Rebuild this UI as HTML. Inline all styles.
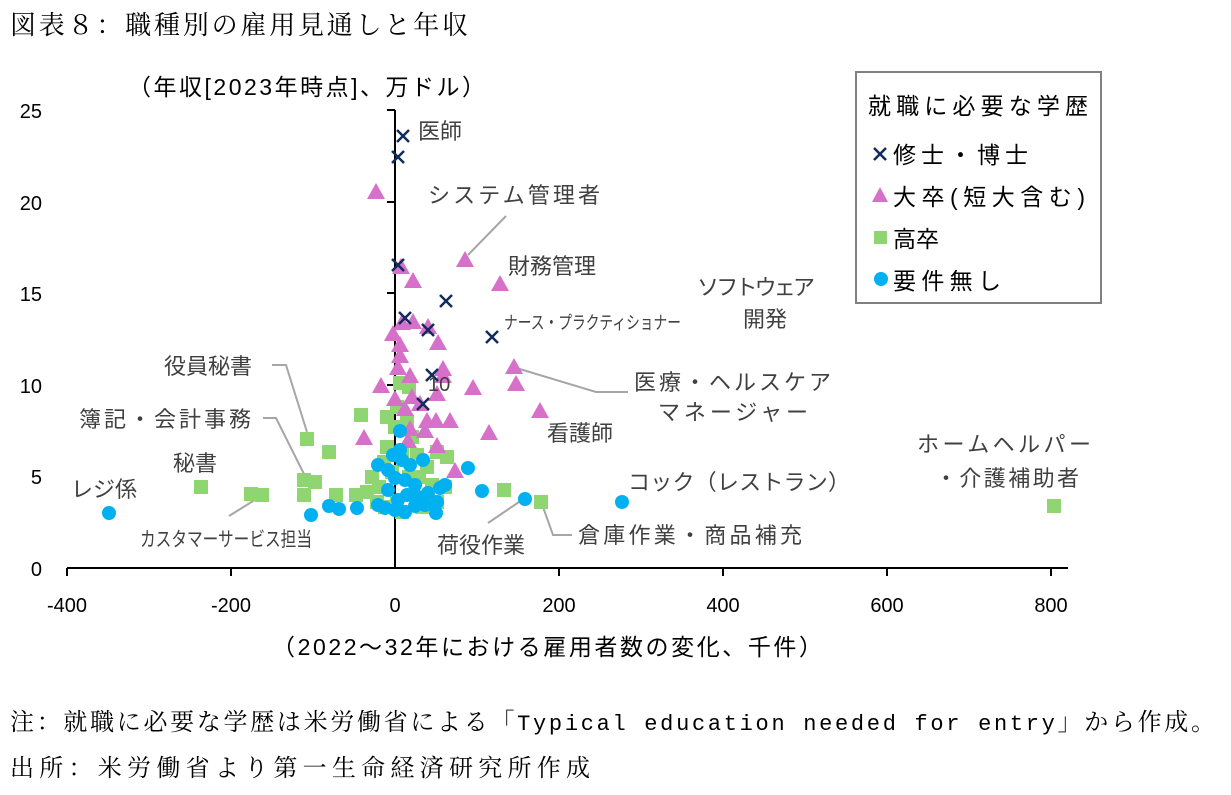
<!DOCTYPE html>
<html><head><meta charset="utf-8"><style>
body{margin:0;background:#fff;width:1231px;height:795px;overflow:hidden}
svg{display:block}
.s{font-family:"Liberation Sans","Noto Sans CJK JP",sans-serif;fill:#404040}
.k{font-family:"Liberation Sans","Noto Sans CJK JP",sans-serif;fill:#000}
.m{font-family:"Liberation Serif","Noto Serif CJK SC",serif;fill:#000}
</style></head><body>
<svg width="1231" height="795" xmlns="http://www.w3.org/2000/svg">
<text class="m" x="10" y="34" font-size="26" textLength="458" lengthAdjust="spacing">図表８：職種別の雇用見通しと年収</text>
<text class="k" x="128" y="95" font-size="23" textLength="357" lengthAdjust="spacing">（年収[2023年時点]、万ドル）</text>
<!-- axes -->
<g stroke="#000" stroke-width="2">
<line x1="395" y1="110" x2="395" y2="568"/>
<line x1="67" y1="568" x2="1068" y2="568"/>
<line x1="387" y1="110" x2="395" y2="110"/><line x1="387" y1="202" x2="395" y2="202"/><line x1="387" y1="293" x2="395" y2="293"/><line x1="387" y1="385" x2="395" y2="385"/><line x1="387" y1="476" x2="395" y2="476"/>
<line x1="67" y1="568" x2="67" y2="576"/><line x1="231" y1="568" x2="231" y2="576"/><line x1="559" y1="568" x2="559" y2="576"/><line x1="723" y1="568" x2="723" y2="576"/><line x1="887" y1="568" x2="887" y2="576"/><line x1="1051" y1="568" x2="1051" y2="576"/>
</g>
<g class="k" font-size="20" text-anchor="end">
<text x="42" y="118">25</text><text x="42" y="210">20</text><text x="42" y="301">15</text><text x="42" y="393">10</text><text x="42" y="484">5</text><text x="42" y="576">0</text>
</g>
<g class="k" font-size="20" text-anchor="middle">
<text x="67" y="612">-400</text><text x="231" y="612">-200</text><text x="395" y="612">0</text><text x="559" y="612">200</text><text x="723" y="612">400</text><text x="887" y="612">600</text><text x="1051" y="612">800</text>
</g>
<text class="k" x="272" y="655" font-size="23" textLength="550" lengthAdjust="spacing">（2022～32年における雇用者数の変化、千件）</text>
<!-- leader lines -->
<g stroke="#a6a6a6" stroke-width="2" fill="none">
<polyline points="272,365 286,365 307,432"/>
<polyline points="263,418 276,418 306,478"/>
<line x1="229" y1="516" x2="258" y2="498"/>
<line x1="506" y1="216" x2="468" y2="255"/>
<polyline points="513,367 596,392 628,392"/>
<line x1="488" y1="523" x2="519" y2="502"/>
<polyline points="543,507 553,535 572,535"/>
</g>
<!-- squares -->
<g fill="#8fd672">
<rect x="300" y="432" width="14" height="14"/><rect x="322" y="445" width="14" height="14"/><rect x="194" y="480" width="14" height="14"/><rect x="244" y="487" width="14" height="14"/><rect x="255" y="488" width="14" height="14"/><rect x="297" y="473" width="14" height="14"/><rect x="308" y="475" width="14" height="14"/><rect x="297" y="488" width="14" height="14"/><rect x="329" y="488" width="14" height="14"/><rect x="349" y="488" width="14" height="14"/><rect x="354" y="408" width="14" height="14"/><rect x="497" y="483" width="14" height="14"/><rect x="534" y="495" width="14" height="14"/><rect x="1047" y="499" width="14" height="14"/>
<rect x="393" y="376" width="14" height="14"/><rect x="402" y="380" width="14" height="14"/><rect x="390" y="400" width="14" height="14"/><rect x="380" y="410" width="14" height="14"/><rect x="388" y="420" width="14" height="14"/><rect x="400" y="415" width="14" height="14"/><rect x="405" y="430" width="14" height="14"/><rect x="380" y="440" width="14" height="14"/><rect x="395" y="445" width="14" height="14"/><rect x="410" y="448" width="14" height="14"/><rect x="377" y="455" width="14" height="14"/><rect x="385" y="465" width="14" height="14"/><rect x="365" y="470" width="14" height="14"/><rect x="372" y="480" width="14" height="14"/><rect x="360" y="485" width="14" height="14"/><rect x="420" y="460" width="14" height="14"/><rect x="430" y="445" width="14" height="14"/><rect x="440" y="450" width="14" height="14"/><rect x="425" y="478" width="14" height="14"/><rect x="438" y="480" width="14" height="14"/><rect x="430" y="495" width="14" height="14"/><rect x="378" y="500" width="14" height="14"/><rect x="390" y="495" width="14" height="14"/><rect x="370" y="495" width="14" height="14"/><rect x="412" y="470" width="14" height="14"/><rect x="402" y="470" width="14" height="14"/><rect x="395" y="505" width="14" height="14"/><rect x="415" y="500" width="14" height="14"/>
</g>
<!-- triangles -->
<g fill="#d670c8">
<path d="M376,183 l9,16 h-18z"/><path d="M465,251 l9,16 h-18z"/><path d="M500,275 l9,16 h-18z"/><path d="M401,258 l9,16 h-18z"/><path d="M413,272 l9,16 h-18z"/><path d="M402,314 l9,16 h-18z"/><path d="M413,313 l9,16 h-18z"/><path d="M428,318 l9,16 h-18z"/><path d="M438,334 l9,16 h-18z"/><path d="M400,336 l9,16 h-18z"/><path d="M400,347 l9,16 h-18z"/><path d="M398,359 l9,16 h-18z"/><path d="M443,360 l9,16 h-18z"/><path d="M410,367 l9,16 h-18z"/><path d="M443,367 l9,16 h-18z"/><path d="M514,358 l9,16 h-18z"/><path d="M516,375 l9,16 h-18z"/><path d="M381,377 l9,16 h-18z"/><path d="M473,379 l9,16 h-18z"/><path d="M540,402 l9,16 h-18z"/><path d="M489,424 l9,16 h-18z"/><path d="M450,412 l9,16 h-18z"/><path d="M427,412 l9,16 h-18z"/><path d="M436,412 l9,16 h-18z"/><path d="M425,422 l9,16 h-18z"/><path d="M364,429 l9,16 h-18z"/><path d="M408,432 l9,16 h-18z"/><path d="M437,437 l9,16 h-18z"/><path d="M455,462 l9,16 h-18z"/><path d="M412,388 l9,16 h-18z"/><path d="M405,400 l9,16 h-18z"/><path d="M420,395 l9,16 h-18z"/><path d="M437,385 l9,16 h-18z"/><path d="M395,390 l9,16 h-18z"/><path d="M410,420 l9,16 h-18z"/><path d="M393,325 l9,16 h-18z"/>
</g>
<!-- crosses -->
<g stroke="#112b5e" stroke-width="2.5">
<path d="M397,130 l12,12 m0,-12 l-12,12"/><path d="M392,151 l12,12 m0,-12 l-12,12"/><path d="M392,259 l12,12 m0,-12 l-12,12"/><path d="M440,295 l12,12 m0,-12 l-12,12"/><path d="M399,312 l12,12 m0,-12 l-12,12"/><path d="M422,324 l12,12 m0,-12 l-12,12"/><path d="M486,331 l12,12 m0,-12 l-12,12"/><path d="M417,398 l12,12 m0,-12 l-12,12"/><path d="M426,369 l12,12 m0,-12 l-12,12"/>
</g>
<!-- circles -->
<g fill="#00b0f0">
<circle cx="109" cy="513" r="7"/><circle cx="311" cy="515" r="7"/><circle cx="329" cy="506" r="7"/><circle cx="339" cy="509" r="7"/><circle cx="357" cy="508" r="7"/><circle cx="468" cy="468" r="7"/><circle cx="482" cy="491" r="7"/><circle cx="525" cy="499" r="7"/><circle cx="622" cy="502" r="7"/><circle cx="400" cy="431" r="7"/>
<circle cx="378" cy="465" r="7"/><circle cx="388" cy="470" r="7"/><circle cx="395" cy="478" r="7"/><circle cx="402" cy="460" r="7"/><circle cx="410" cy="465" r="7"/><circle cx="423" cy="460" r="7"/><circle cx="405" cy="480" r="7"/><circle cx="415" cy="485" r="7"/><circle cx="407" cy="495" r="7"/><circle cx="418" cy="497" r="7"/><circle cx="428" cy="493" r="7"/><circle cx="440" cy="488" r="7"/><circle cx="445" cy="485" r="7"/><circle cx="437" cy="502" r="7"/><circle cx="436" cy="513" r="7"/><circle cx="378" cy="505" r="7"/><circle cx="385" cy="508" r="7"/><circle cx="395" cy="510" r="7"/><circle cx="405" cy="512" r="7"/><circle cx="415" cy="506" r="7"/><circle cx="425" cy="505" r="7"/><circle cx="398" cy="500" r="7"/><circle cx="388" cy="490" r="7"/><circle cx="400" cy="450" r="7"/><circle cx="393" cy="455" r="7"/></g>
<!-- labels -->
<g class="s" font-size="22">
<text x="418" y="139">医師</text>
<text x="428" y="203" textLength="172" lengthAdjust="spacing">システム管理者</text>
<text x="508" y="274">財務管理</text>
<text x="697" y="295" textLength="118" lengthAdjust="spacing">ソフトウェア</text>
<text x="743" y="327">開発</text>
<text x="504" y="329" font-size="18" textLength="177" lengthAdjust="spacingAndGlyphs">ナース・プラクティショナー</text>
<text x="428" y="391" font-size="20">10</text>
<text x="634" y="390" textLength="197" lengthAdjust="spacing">医療・ヘルスケア</text>
<text x="658" y="420" textLength="150" lengthAdjust="spacing">マネージャー</text>
<text x="547" y="441">看護師</text>
<text x="164" y="374">役員秘書</text>
<text x="79" y="427" textLength="172" lengthAdjust="spacing">簿記・会計事務</text>
<text x="173" y="471">秘書</text>
<text x="71" y="497">レジ係</text>
<text x="140" y="546" font-size="20" textLength="172" lengthAdjust="spacingAndGlyphs">カスタマーサービス担当</text>
<text x="628" y="490" textLength="222" lengthAdjust="spacing">コック（レストラン）</text>
<text x="437" y="553">荷役作業</text>
<text x="578" y="543" textLength="224" lengthAdjust="spacing">倉庫作業・商品補充</text>
<text x="917" y="452" textLength="174" lengthAdjust="spacing">ホームヘルパー</text>
<text x="935" y="486" textLength="144" lengthAdjust="spacing">・介護補助者</text>
</g>
<!-- legend -->
<rect x="856" y="72" width="245" height="231" fill="#fff" stroke="#808080" stroke-width="2"/>
<g class="k" font-size="23">
<text x="868" y="114" textLength="220" lengthAdjust="spacing">就職に必要な学歴</text>
<text x="893" y="163" textLength="135" lengthAdjust="spacing">修士・博士</text>
<text x="893" y="205" textLength="192" lengthAdjust="spacing">大卒(短大含む)</text>
<text x="893" y="247">高卒</text>
<text x="893" y="289" textLength="108" lengthAdjust="spacing">要件無し</text>
</g>
<path d="M874,148 l12,12 m0,-12 l-12,12" stroke="#112b5e" stroke-width="2.5"/>
<path d="M880,187 l8,15 h-16z" fill="#d670c8"/>
<rect x="874" y="231" width="13" height="13" fill="#8fd672"/>
<circle cx="881" cy="279" r="7" fill="#00b0f0"/>
<text class="m" x="10" y="730" font-size="24" textLength="1205" lengthAdjust="spacing">注：就職に必要な学歴は米労働省による「<tspan font-family="Liberation Mono,monospace" font-size="22">Typical education needed for entry</tspan>」から作成。</text>
<text class="m" x="10" y="776" font-size="24" textLength="580" lengthAdjust="spacing">出所：米労働省より第一生命経済研究所作成</text>
</svg>
</body></html>
